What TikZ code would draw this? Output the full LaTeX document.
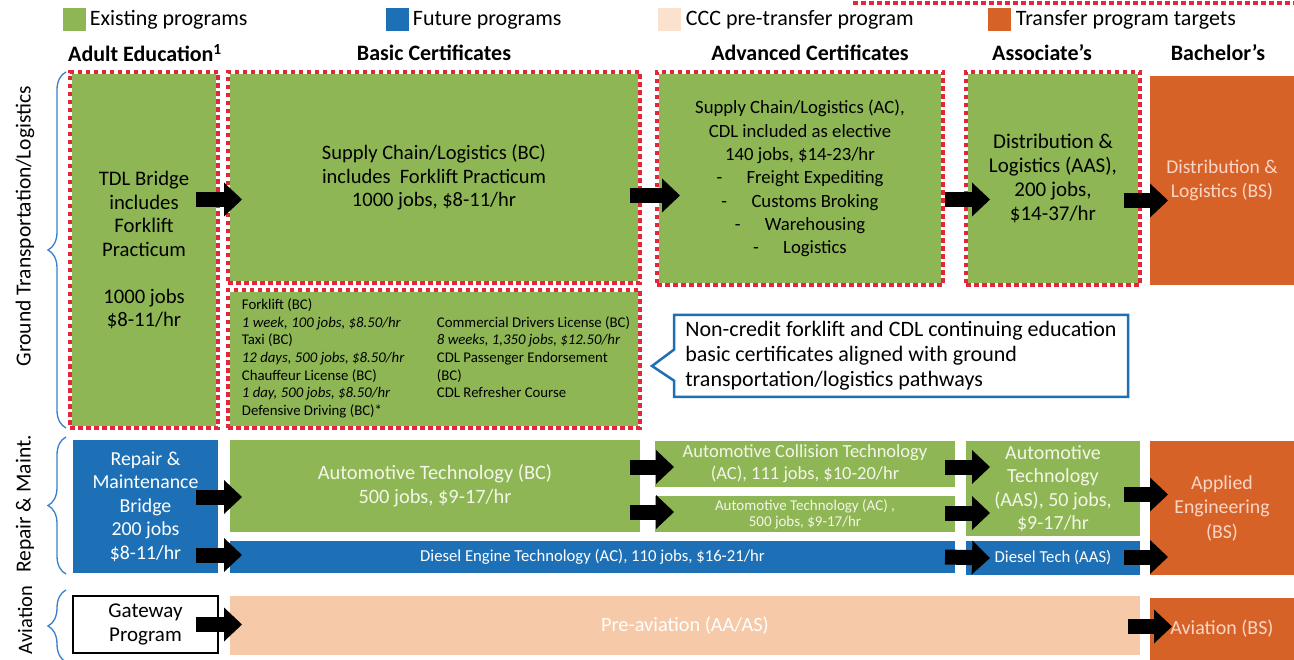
\documentclass[tikz,border=0pt]{standalone}
\usepackage{fontspec}
\setmainfont{Carlito}
\usetikzlibrary{arrows.meta,positioning,calc,shapes.callouts,decorations.pathreplacing}

\definecolor{grn}{RGB}{142,182,84}
\definecolor{blu}{RGB}{30,112,182}
\definecolor{org}{RGB}{214,98,40}
\definecolor{pch}{RGB}{246,202,168}
\definecolor{dotred}{RGB}{228,38,58}
\definecolor{brc}{RGB}{58,128,200}
\definecolor{lite}{RGB}{244,246,234}
\definecolor{pinktxt}{RGB}{250,214,198}

\newcommand{\setfs}[2]{\fontsize{#1}{#2}\selectfont}

\begin{document}
\begin{tikzpicture}[x=1pt, y=-1pt,
  box/.style={inner sep=2pt, outer sep=0pt, align=center},
  grnbox/.style={box, fill=grn},
  dotbox/.style={grnbox, draw=white, line width=4pt,
    postaction={draw=dotred, line width=4pt, dash pattern=on 4.5pt off 3.5pt}},
  blubox/.style={box, fill=blu, text=white},
  orgbox/.style={box, fill=org, text=pinktxt},
  pchbox/.style={box, fill=pch, text=white},
  gatebox/.style={box, draw=black, line width=1.2pt, fill=white},
  hdr/.style={font=\bfseries\setfs{22}{26}},
  leg/.style={minimum size=23pt, inner sep=0pt},
  legtxt/.style={font=\setfs{22}{26}, inner sep=0pt},
  side/.style={rotate=90, font=\setfs{21.5}{25}},
  brace/.style={draw=brc, line width=1.3pt, decorate, decoration={brace, amplitude=18pt}},
  blk/.style={black, line width=15pt, -{Triangle[length=18pt, width=34pt, line width=0pt]}}
]
\useasboundingbox (0,0) rectangle (1294,660);
\fill[white] (0,0) rectangle (1294,660);

% legend
\draw[dotred, line width=4pt, dash pattern=on 4.5pt off 3.5pt] (853,3) -- (1294,3);
\node[leg, fill=grn] (lgex) at (74,20) {};
\node[legtxt, right=4pt of lgex] (lgext) {Existing programs};
\node[leg, fill=blu] (lgfu) at (397,20) {};
\node[legtxt, right=4pt of lgfu] (lgfut) {Future programs};
\node[leg, fill=pch!55] (lgcc) at (669,20) {};
\node[legtxt, right=5pt of lgcc] (lgcct) {CCC pre-transfer program};
\node[leg, fill=org] (lgtr) at (999,20) {};
\node[legtxt, right=5pt of lgtr] (lgtrt) {Transfer program targets};

% column heads
\node[hdr] (hae) at (145,53) {Adult Education\textsuperscript{1}};
\node[hdr] (hbc) at (434,53) {Basic Certificates};
\node[hdr] (hac) at (810,53) {Advanced Certificates};
\node[hdr] (has) at (1042,53) {Associate’s};
\node[hdr] (hba) at (1218,53) {Bachelor’s};

% ground transportation / logistics
\node[dotbox, minimum width=148pt, minimum height=356pt, font=\setfs{20.7}{23.5}] (tdl) at (144,250)
  {TDL Bridge\\includes\\Forklift\\Practicum\\[23.5pt]1000 jobs\\\$8-11/hr};
\node[dotbox, minimum width=412pt, minimum height=211pt, font=\setfs{20.5}{23.5}] (scbc) at (434,177.5)
  {Supply Chain/Logistics (BC)\\includes\ \ Forklift Practicum\\1000 jobs, \$8-11/hr};
\node[dotbox, minimum width=412pt, minimum height=138pt, font=\setfs{14.8}{17.6}] (fork) at (434,359)
  {\hspace*{4pt}\begin{tabular}{@{}p{195pt}@{}l@{}}
   Forklift (BC) & \\
   \textit{1 week, 100 jobs, \$8.50/hr} & Commercial Drivers License (BC)\\
   Taxi (BC) & \textit{8 weeks, 1,350 jobs, \$12.50/hr}\\
   \textit{12 days, 500 jobs, \$8.50/hr} & CDL Passenger Endorsement\\
   Chauffeur License (BC) & (BC)\\
   \textit{1 day, 500 jobs, \$8.50/hr} & CDL Refresher Course\\
   Defensive Driving (BC)* &
   \end{tabular}};
\node[dotbox, minimum width=286pt, minimum height=213pt, font=\setfs{18.7}{23.3}] (ac) at (800,178.5)
  {Supply Chain/Logistics (AC),\\CDL included as elective\\140 jobs, \$14-23/hr\\
   -\hspace{1.3em}Freight Expediting\\-\hspace{1.3em}Customs Broking\\
   -\hspace{1.3em}Warehousing\\-\hspace{1.3em}Logistics};
\node[dotbox, minimum width=174pt, minimum height=213pt, font=\setfs{21}{24}] (assoc) at (1053,178.5)
  {Distribution \&\\Logistics (AAS),\\200 jobs,\\\$14-37/hr};
\node[orgbox, minimum width=144pt, minimum height=209pt, font=\setfs{19.5}{24}] (bsdl) at (1222,180.5)
  {Distribution \&\\Logistics (BS)};
\node[rectangle callout, draw=blu, line width=2.5pt, fill=white, align=left,
  minimum width=454pt, minimum height=82pt, font=\setfs{22}{25},
  callout pointer width=31pt, callout absolute pointer={($(fork.east)+(12,7)$)}] (note) at (901,356)
  {Non-credit forklift and CDL continuing education\\basic certificates aligned with ground\\transportation/logistics pathways};

% repair & maintenance
\node[blubox, minimum width=145pt, minimum height=133pt, font=\setfs{19.8}{23.5}] (bridge) at (145.5,506.5)
  {Repair \&\\Maintenance\\Bridge\\200 jobs\\\$8-11/hr};
\node[grnbox, text=lite, minimum width=410pt, minimum height=92pt, font=\setfs{20.4}{24}] (autobc) at (435,486)
  {Automotive Technology (BC)\\500 jobs, \$9-17/hr};
\node[blubox, minimum width=725pt, minimum height=32pt, font=\setfs{16.7}{19}] (diesel) at (592.5,557)
  {Diesel Engine Technology (AC), 110 jobs, \$16-21/hr};
\node[grnbox, text=lite, minimum width=300pt, minimum height=46pt, font=\setfs{18.5}{22}] (coll) at (805,464)
  {Automotive Collision Technology\\(AC), 111 jobs, \$10-20/hr};
\node[grnbox, text=lite, minimum width=300pt, minimum height=36pt, font=\setfs{15}{16}] (autoac) at (805,514)
  {Automotive Technology (AC) ,\\500 jobs, \$9-17/hr};
\node[grnbox, text=lite, minimum width=174pt, minimum height=95pt, font=\setfs{20}{23.5}] (aas) at (1053,488.5)
  {Automotive\\Technology\\(AAS), 50 jobs,\\\$9-17/hr};
\node[blubox, minimum width=174pt, minimum height=34pt, font=\setfs{16.7}{19}] (dtech) at (1053,558)
  {Diesel Tech (AAS)};
\node[orgbox, minimum width=144pt, minimum height=134pt, font=\setfs{19.8}{24.5}] (aeng) at (1222,508)
  {Applied\\Engineering\\(BS)};

% aviation
\node[gatebox, minimum width=145pt, minimum height=57pt, font=\setfs{21}{24}] (gate) at (145.5,624.5)
  {Gateway\\Program};
\node[pchbox, minimum width=910pt, minimum height=59pt, font=\setfs{20.3}{23}] (preav) at (685,625.5)
  {Pre-aviation (AA/AS)};
\node[orgbox, minimum width=144pt, minimum height=62pt, font=\setfs{20}{23}] (avbs) at (1222,629)
  {Aviation (BS)};

% pathway labels and braces
\node[side] (lgt) at (25,226) {Ground Transportation/Logistics};
\node[side] (lrm) at (25,504) {Repair \& Maint.};
\node[side, font=\setfs{20.5}{24}] (lav) at (25,620) {Aviation};
\draw[brace] ($(tdl.south west)+(-4,0)$) -- ($(tdl.north west)+(-4,0)$);
\draw[brace] ($(bridge.south west)+(-7,1)$) -- ($(bridge.north west)+(-7,-3)$);
\draw[brace] ($(gate.south west)+(-7,9)$) -- ($(gate.north west)+(-7,-6)$);

% arrows
\draw[blk] ($(tdl.east |- scbc.west)+(-22,22)$) -- ($(scbc.west)+(14,22)$);
\draw[blk] ($(scbc.east |- ac.west)+(-10,17)$) -- ($(ac.west)+(23,17)$);
\draw[blk] ($(ac.east |- assoc.west)+(2,21)$) -- ($(assoc.west)+(24,21)$);
\draw[blk] ($(assoc.east |- bsdl.west)+(-16,20)$) -- ($(bsdl.west)+(18,20)$);

\draw[blk] ($(bridge.east |- autobc.west)+(-22,11)$) -- ($(autobc.west)+(12,11)$);
\draw[blk] ($(bridge.east |- diesel.west)+(-22,-2)$) -- ($(diesel.west)+(12,-2)$);
\draw[blk] ($(autobc.east |- coll.west)+(-10,3)$) -- ($(coll.west)+(19,3)$);
\draw[blk] ($(autobc.east |- autoac.west)+(-10,-2)$) -- ($(autoac.west)+(19,-2)$);
\draw[blk] ($(coll.east)+(-10,3)$) -- ($(coll.east -| aas.west)+(24,3)$);
\draw[blk] ($(autoac.east)+(-10,-1)$) -- ($(autoac.east -| aas.west)+(24,-1)$);
\draw[blk] ($(diesel.east)+(-10,0)$) -- ($(dtech.west)+(24,0)$);
\draw[blk] ($(aas.east)+(-16,6)$) -- ($(aas.east -| aeng.west)+(18,6)$);
\draw[blk] ($(dtech.east)+(-16,-1)$) -- ($(dtech.east -| aeng.west)+(18,-1)$);

\draw[blk] ($(gate.east |- preav.west)+(-22,-1)$) -- ($(preav.west)+(12,-1)$);
\draw[blk] ($(preav.east)+(-12,1)$) -- ($(preav.east -| avbs.west)+(22,1)$);
\end{tikzpicture}
\end{document}
